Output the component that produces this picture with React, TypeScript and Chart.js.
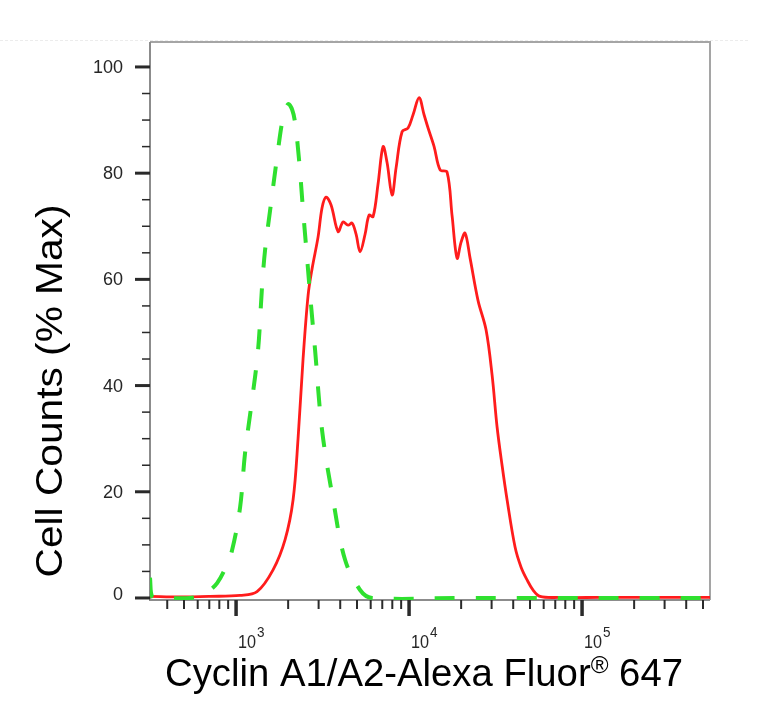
import { useEffect, useRef } from 'react';
import { Chart, registerables } from 'chart.js';

Chart.register(...registerables);

// Stained sample (red, solid)
const redX = [318, 474, 708, 1055, 1322, 1636, 1920, 2136, 2282, 2439, 2608, 2750, 2979, 3141, 3313, 3541, 3888, 4155, 4441, 4684, 4939, 5210, 5568, 5872, 6195, 6620, 7075, 7461, 7977, 8412, 9112, 9867, 10546, 11424, 12210, 12879, 13954, 15113, 16584, 17726, 18946, 19983, 21077, 22526, 25050, 27860, 30190, 32270, 34480, 36860, 40990, 44410, 48100, 52110, 57180, 74600, 127100, 247300, 549000];
const redY = [0.3, 0.2, 0.3, 0.5, 1.2, 5.3, 11, 18.5, 30, 45, 57, 62, 68, 73.5, 75.5, 74, 69, 70.8, 70.2, 70.6, 68.5, 65.2, 68.5, 72.1, 71.8, 78, 85, 82, 75.9, 81, 87.8, 88.5, 91, 94.2, 91, 88.5, 85, 80.6, 80.2, 72, 64, 67, 68.7, 64, 56, 50.5, 42, 32.2, 25, 18.5, 9.6, 5.8, 3.4, 1.5, 0.3, 0.1, 0.1, 0.1, 0.1];

// Control (green, dashed)
const greenX = [318, 327, 415, 542, 645, 708, 777, 864, 948, 1055, 1127, 1237, 1340, 1413, 1471, 1573, 1726, 1869, 1998, 2108, 2193, 2313, 2439, 2573, 2714, 2862, 3141, 3637, 4266, 5210, 6110, 20000, 549000];
const greenY = [3.8, 0.3, 0, 0, 0.6, 1.5, 2.8, 5.5, 9, 17.1, 27.3, 37.3, 46.7, 58.6, 65.5, 73, 83, 90.5, 93, 92, 89.5, 82.5, 73, 64, 55, 46.7, 31.6, 18.5, 7.2, 1.5, 0, 0, 0];

const yMajorTicks = [0, 20, 40, 60, 80, 100];
const yMinorTicks = [5, 10, 15, 25, 30, 35, 45, 50, 55, 65, 70, 75, 85, 90, 95];
const xMajorTicks = [1e3, 1e4, 1e5];
const xMajorExponents = ['3', '4', '5'];
const xMinorTicks = [
  400, 500, 600, 700, 800, 900,
  2000, 3000, 4000, 5000, 6000, 7000, 8000, 9000,
  20000, 30000, 40000, 50000, 60000, 70000, 80000, 90000,
  200000, 300000, 400000, 500000,
];

const X_MIN = 318;
const X_MAX = 549000;
const Y_MIN = -0.38;
const Y_MAX = 104.7;

const FONT = '"Liberation Sans", Arial, Helvetica, sans-serif';

const flowAxes = {
  id: 'flowAxes',
  beforeDatasetsDraw(chart: any) {
    const { ctx, chartArea: a } = chart;
    const xs = chart.scales.x;
    const ys = chart.scales.y;
    const seg = (x1: number, y1: number, x2: number, y2: number) => {
      ctx.beginPath(); ctx.moveTo(x1, y1); ctx.lineTo(x2, y2); ctx.stroke();
    };
    ctx.save();

    // faint rule above the plot
    ctx.strokeStyle = '#ececec'; ctx.lineWidth = 1; ctx.setLineDash([3, 2]);
    seg(0, 40.5, 750, 40.5);
    ctx.setLineDash([]);

    // frame
    ctx.lineWidth = 2;
    ctx.strokeStyle = '#a5a5a5';
    ctx.beginPath(); ctx.moveTo(a.left, a.top); ctx.lineTo(a.right, a.top); ctx.lineTo(a.right, a.bottom); ctx.stroke();
    ctx.strokeStyle = '#8c8c8c';
    ctx.beginPath(); ctx.moveTo(a.left, a.top); ctx.lineTo(a.left, a.bottom); ctx.lineTo(a.right, a.bottom); ctx.stroke();

    // tick marks
    ctx.strokeStyle = '#2a2a2a';
    ctx.lineWidth = 1.5;
    yMinorTicks.forEach((v) => { const p = ys.getPixelForValue(v); seg(a.left - 8, p, a.left, p); });
    ctx.lineWidth = 3;
    yMajorTicks.forEach((v) => { const p = ys.getPixelForValue(v); seg(a.left - 15, p, a.left, p); });
    ctx.lineWidth = 2;
    xMinorTicks.forEach((v) => { const p = xs.getPixelForValue(v); seg(p, a.bottom, p, a.bottom + 9); });
    ctx.lineWidth = 3.5;
    xMajorTicks.forEach((v) => { const p = xs.getPixelForValue(v); seg(p, a.bottom, p, a.bottom + 16); });

    // y tick labels
    ctx.fillStyle = '#262626';
    ctx.font = `18px ${FONT}`;
    ctx.textAlign = 'right';
    ctx.textBaseline = 'middle';
    yMajorTicks.forEach((v) => ctx.fillText(String(v), a.left - 27, ys.getPixelForValue(v) + (v === 0 ? -3 : 1)));

    // x tick labels: 10 with raised exponent
    ctx.textAlign = 'left';
    ctx.textBaseline = 'alphabetic';
    xMajorTicks.forEach((v, i) => {
      const p = xs.getPixelForValue(v) + 2;
      ctx.font = `18px ${FONT}`;
      ctx.save();
      ctx.translate(p, a.bottom + 48);
      ctx.scale(0.9, 1);
      ctx.fillText('10', 0, 0);
      const w = ctx.measureText('10').width;
      ctx.font = `15px ${FONT}`;
      ctx.fillText(xMajorExponents[i], w + 1, -11);
      ctx.restore();
    });

    // axis titles
    ctx.fillStyle = '#000';
    ctx.save();
    ctx.translate(62, 391);
    ctx.rotate(-Math.PI / 2);
    ctx.font = `36px ${FONT}`;
    const yTitle = 'Cell Counts (% Max)';
    const yw = ctx.measureText(yTitle).width;
    ctx.scale(373 / yw, 1);
    ctx.textAlign = 'center';
    ctx.fillText(yTitle, 0, 0);
    ctx.restore();

    const t1 = 'Cyclin A1/A2-Alexa Fluor';
    const tSup = '®';
    const t2 = ' 647';
    ctx.font = `38px ${FONT}`;
    const w1 = ctx.measureText(t1).width;
    const w2 = ctx.measureText(t2).width;
    ctx.font = `24px ${FONT}`;
    const ws = ctx.measureText(tSup).width;
    const total = w1 + ws + w2;
    ctx.save();
    ctx.translate(165, 686);
    ctx.scale(518 / total, 1);
    ctx.textAlign = 'left';
    ctx.font = `38px ${FONT}`;
    ctx.fillText(t1, 0, 0);
    ctx.fillText(t2, w1 + ws, 0);
    ctx.font = `24px ${FONT}`;
    ctx.fillText(tSup, w1, -13);
    ctx.restore();

    ctx.restore();
  },
};

export default function App() {
  const ref = useRef<HTMLCanvasElement>(null);
  const chartRef = useRef<Chart | null>(null);

  useEffect(() => {
    if (!ref.current) return;
    chartRef.current?.destroy();
    chartRef.current = new Chart(ref.current, {
      type: 'line',
      data: {
        datasets: [
          {
            label: 'Control',
            data: greenX.map((x, i) => ({ x, y: greenY[i] })),
            borderColor: '#2fe02f',
            borderWidth: 4,
            borderDash: [20, 21],
            pointRadius: 0,
            tension: 0.35,
            fill: false,
            order: 1,
          },
          {
            label: 'Cyclin A1/A2',
            data: redX.map((x, i) => ({ x, y: redY[i] })),
            borderColor: '#ff1c1c',
            borderWidth: 2.8,
            pointRadius: 0,
            tension: 0.35,
            fill: false,
            order: 2,
          },
        ],
      },
      options: {
        responsive: true, maintainAspectRatio: false, animation: false,
        events: [],
        layout: { padding: { left: 150, right: 56, top: 42, bottom: 107 } },
        plugins: { legend: { display: false }, tooltip: { enabled: false } },
        scales: {
          x: { type: 'logarithmic', min: X_MIN, max: X_MAX, display: false },
          y: { type: 'linear', min: Y_MIN, max: Y_MAX, display: false },
        },
      },
      plugins: [flowAxes],
    });
    return () => { chartRef.current?.destroy(); };
  }, []);

  return (
    <div style={{ position: 'absolute', left: 0, top: 0, width: 766, height: 707, background: '#fff' }}>
      <canvas ref={ref} />
    </div>
  );
}
